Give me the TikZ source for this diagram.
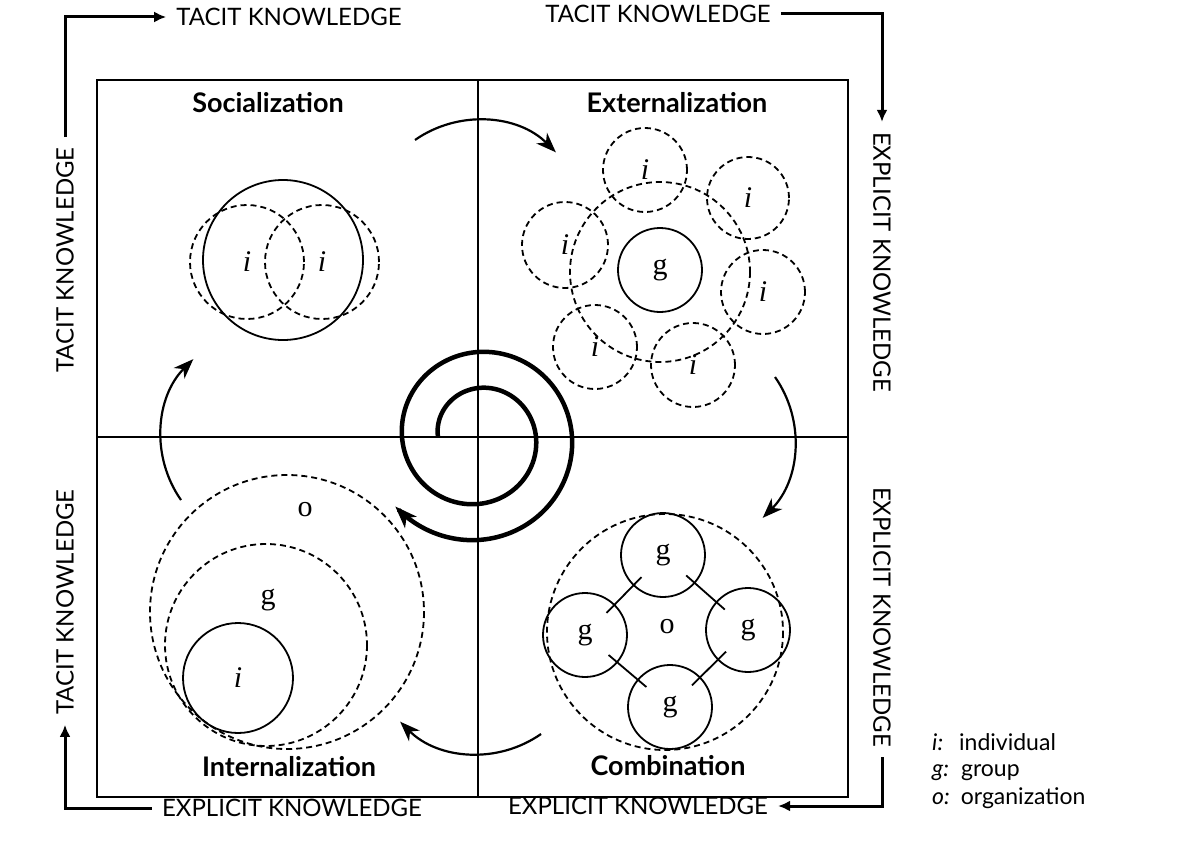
\documentclass[tikz,border=0pt]{standalone}
\usepackage{fontspec}
\setmainfont{Lato}
\newfontfamily\letterfont{Liberation Serif}
\usetikzlibrary{arrows.meta}

\tikzset{
  quad/.style={font=\bfseries\fontsize{27}{30}\selectfont},
  know/.style={font=\fontsize{24}{26}\selectfont, inner sep=10pt},
  letter/.style={font=\letterfont\fontsize{30}{32}\selectfont, inner sep=0pt},
  box/.style={line width=2pt},
  dashline/.style={line width=1.8pt, dash pattern=on 6pt off 4pt},
  solidc/.style={circle, draw, line width=1.8pt, inner sep=0pt, letter},
  dashc/.style={circle, draw, dashline, inner sep=0pt, letter},
  link/.style={line width=1.8pt, shorten <=-12pt, shorten >=-12pt},
  cyc/.style={line width=2.2pt, -{Stealth[length=20pt,width=15pt,inset=6pt]}},
  spiral/.style={line width=4.5pt, -{Stealth[length=22pt,width=16pt,inset=6pt]}},
  frame/.style={line width=3pt, -{Latex[length=12pt,width=11pt]}},
  legend/.style={font=\fontsize{23}{25}\selectfont, anchor=base west, inner sep=0pt}
}

\begin{document}
\begin{tikzpicture}[x=1pt, y=-1pt]
\fill[white] (0,0) rectangle (1186,867);
\useasboundingbox (0,0) rectangle (1186,867);

% the four modes
\draw[box] (97,80) rectangle (848,797);
\draw[box] (478,80) -- (478,797);
\draw[box] (97,437) -- (848,437);

\node[quad] (soc) at (268,103) {Socialization};
\node[quad] (ext) at (677,103) {Externalization};
\node[quad] (int) at (289,767) {Internalization};
\node[quad] (com) at (668,766) {Combination};

% knowledge labels round the frame
\node[know] (tt1) at (289,17) {TACIT KNOWLEDGE};
\node[know] (tt2) at (658,14) {TACIT KNOWLEDGE};
\node[know, rotate=-90] (rt1) at (882,262) {EXPLICIT KNOWLEDGE};
\node[know, rotate=-90] (rt2) at (882,617) {EXPLICIT KNOWLEDGE};
\node[know] (bt2) at (638,806) {EXPLICIT KNOWLEDGE};
\node[know] (bt1) at (292,808) {EXPLICIT KNOWLEDGE};
\node[know, rotate=90] (lt2) at (65,602) {TACIT KNOWLEDGE};
\node[know, rotate=90] (lt1) at (65,260) {TACIT KNOWLEDGE};

\draw[frame] (lt1.east) |- (tt1.west);
\draw[frame] (tt2.east) -| (rt1.west);
\draw[frame] (rt2.east) |- (bt2.east);
\draw[frame] (bt1.west) -| (lt2.west);

% socialization
\draw[line width=1.8pt] (283,260) circle[radius=80];
\node[dashc, minimum size=114pt] (s1) at (247,262) {\itshape i};
\node[dashc, minimum size=114pt] (s2) at (322,262) {\itshape i};

% externalization
\draw[dashline] (660,272) circle[radius=90];
\node[solidc, minimum size=84pt] (eg) at (660,270) {g};
\node[dashc, minimum size=84pt] (e1) at (645,170) {\itshape i};
\node[dashc, minimum size=82pt] (e2) at (748,198) {\itshape i};
\node[dashc, minimum size=86pt] (e3) at (565,245) {\itshape i};
\node[dashc, minimum size=84pt] (e4) at (763,292) {\itshape i};
\node[dashc, minimum size=84pt] (e5) at (595,347) {\itshape i};
\node[dashc, minimum size=84pt] (e6) at (693,365) {\itshape i};

% internalization
\draw[dashline] (287,612) circle[radius=137];
\draw[dashline] (266,645) circle[radius=101];
\node[solidc, minimum size=110pt] (ii) at (238,678) {\itshape i};
\node[letter] (io) at (305,510) {o};
\node[letter] (ig) at (268,600) {g};

% combination
\draw[dashline] (665,632) circle[radius=118];
\node[solidc, minimum size=84pt] (ct) at (663,555) {g};
\node[solidc, minimum size=84pt] (cl) at (585,635) {g};
\node[solidc, minimum size=84pt] (cr) at (748,630) {g};
\node[solidc, minimum size=84pt] (cb) at (670,707) {g};
\node[letter] (co) at (667,627) {o};
\draw[link] (ct) -- (cl);
\draw[link] (ct) -- (cr);
\draw[link] (cl) -- (cb);
\draw[link] (cr) -- (cb);

% cycle arrows
\coordinate (c1) at (415,140);
\coordinate (c2) at (775,377);
\coordinate (c3) at (541,734);
\coordinate (c4) at (181,500);
\draw[cyc] (c1) arc[start angle=235, end angle=315, radius=110];
\draw[cyc] (c2) arc[start angle=-35, end angle=45, radius=110];
\draw[cyc] (c3) arc[start angle=55, end angle=135, radius=110];
\draw[cyc] (c4) arc[start angle=145, end angle=225, radius=110];

% spiral
\draw[spiral] plot[domain=0:680, samples=170, smooth] ({478-(40+0.1*\x)*cos(\x)}, {437-(40+0.1*\x)*sin(\x)});

% legend
\node[legend] (li) at (932,750) {\textit{i:}\hspace{16pt}individual};
\node[legend] (lg) at (932,776) {\textit{g:}\hspace{12pt}group};
\node[legend] (lo) at (932,804) {\textit{o:}\hspace{11pt}organization};
\end{tikzpicture}
\end{document}
